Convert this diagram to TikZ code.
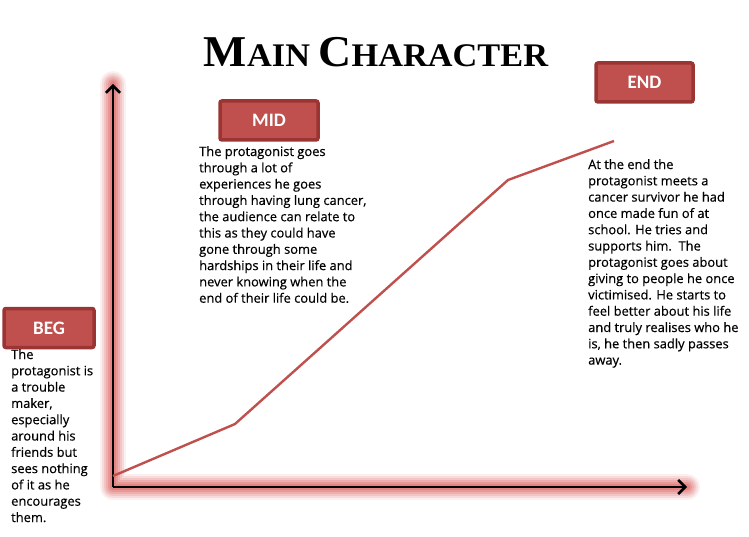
\documentclass[tikz,border=0pt]{standalone}
\usepackage{graphicx}
\usepackage{fontspec}
\setmainfont{Liberation Serif}
\newfontfamily\labelfont{Carlito}
\newfontfamily\bodyfont[FakeBold=0.4]{Open Sans}
\usetikzlibrary{arrows.meta}
\definecolor{boxfill}{HTML}{C0504D}
\definecolor{boxedge}{HTML}{9B3533}
\definecolor{glow}{HTML}{E06666}
\tikzset{
  x=1pt, y=-1pt,
  stage/.style={draw=boxedge, line width=3.5pt, fill=boxfill, rounded corners=2pt,
    text=white, font=\labelfont\bfseries\fontsize{19}{19}\selectfont,
    minimum height=39pt, inner sep=0pt},
  body/.style={anchor=north west, align=left, inner sep=0pt,
    font=\bodyfont\fontsize{12.9}{16.3}\selectfont},
  axis/.style={line width=2.6pt, -{Straight Barb[length=7pt,width=14pt,line width=2.6pt]}},
  trend/.style={draw=boxfill, line width=2.4pt, line join=round},
}
\begin{document}
\begin{tikzpicture}
\useasboundingbox (0,0) rectangle (749,537);
\fill[white] (0,0) rectangle (749,537);

% axis end points
\coordinate (o) at (113,487);
\coordinate (ytop) at (113,84);
\coordinate (xend) at (687,487);

% soft red glow behind the axes
\foreach \w/\op in {26/0.10, 22/0.14, 18/0.18, 14/0.24, 10/0.30, 6/0.38}{
  \draw[glow, line width=\w pt, line cap=round, line join=round, opacity=\op]
    (ytop) -- (o) -- (xend);
}

% axes
\draw[axis] (o) -- (ytop);
\draw[axis] (o) -- (xend);

% title
\node (title) at (376,52) {\scalebox{1.04}[1]{\bfseries\fontsize{44}{44}\selectfont M\fontsize{33}{33}\selectfont AIN
  \fontsize{44}{44}\selectfont C\fontsize{33}{33}\selectfont HARACTER}};

% stage boxes
\node[stage, minimum width=98pt] (mid) at (269,120.5) {MID};
\node[stage, minimum width=97pt] (end) at (644.5,82.5) {END};
\node[stage, minimum width=90pt] (beg) at (49,328) {BEG};

% trend line
\coordinate (p0) at (113,476);
\coordinate (p1) at (235,424);
\coordinate (p2) at (508,180);
\coordinate (p3) at (614,141);
\draw[trend] (p0) -- (p1) -- (p2) -- (p3);

% descriptions
\node[body] (midtext) at (199,146) {The protagonist goes\\through a lot of\\experiences he goes\\through having lung cancer,\\the audience can relate to\\this as they could have\\gone through some\\hardships in their life and\\never knowing when the\\end of their life could be.};
\node[body] (endtext) at (588,159) {At the end the\\protagonist meets a\\cancer survivor he had\\once made fun of at\\school. He tries and\\supports him.\ \ The\\protagonist goes about\\giving to people he once\\victimised. He starts to\\feel better about his life\\and truly realises who he\\is, he then sadly passes\\away.};
\node[body] (begtext) at (11,349) {The\\protagonist is\\a trouble\\maker,\\especially\\around his\\friends but\\sees nothing\\of it as he\\encourages\\them.};
\end{tikzpicture}
\end{document}
